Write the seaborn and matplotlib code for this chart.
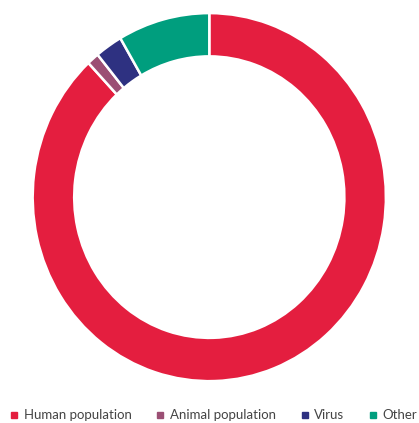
import matplotlib
matplotlib.use("Agg")
import matplotlib.pyplot as plt
from matplotlib.lines import Line2D
import seaborn as sns

categorias = ["Human population", "Animal population", "Virus", "Other"]
valores = [88.0, 1.1, 2.5, 8.4]
colores = ["#E41E3F", "#9B4F74", "#2E3181", "#009E7E"]

sns.set_theme(style="white")
plt.rcParams["font.family"] = ["Lato", "DejaVu Sans"]

fig = plt.figure(figsize=(4.19, 4.23), dpi=100)
# el anillo del original está un poco estirado en vertical
ax = fig.add_axes([0.078, 0.099, 0.843, 0.870])

ax.pie(valores, colors=colores, startangle=90, counterclock=False,
       wedgeprops=dict(width=0.235, edgecolor="white", linewidth=1.8))
ax.set_xlim(-1, 1)
ax.set_ylim(-1, 1)
ax.set_aspect("auto")

handles = [Line2D([0], [0], marker="s", color="w", markerfacecolor=c,
                  markeredgecolor=c, markersize=5, linestyle="")
           for c in colores]
fig.legend(handles, categorias, loc="center", bbox_to_anchor=(0.51, 0.018),
           ncol=4, frameon=False, fontsize=9.5, handlelength=0.6,
           handletextpad=0.4, columnspacing=1.9, labelcolor="#444444")

fig.savefig("out.png", dpi=100)
